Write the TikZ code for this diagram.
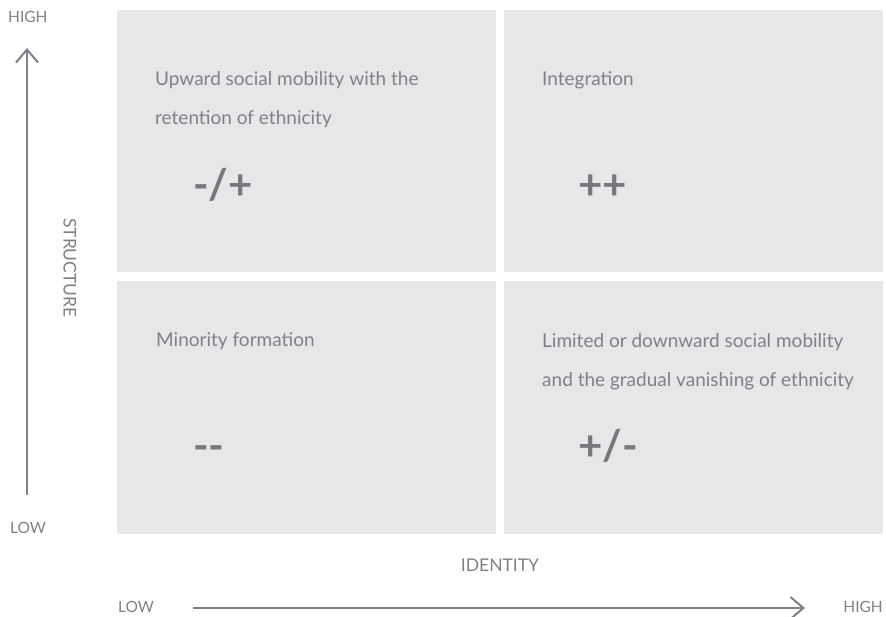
\documentclass[tikz,border=0pt]{standalone}
\usepackage{fontspec}
\setmainfont{Lato}
\usetikzlibrary{positioning, arrows.meta}
\definecolor{boxgray}{HTML}{E6E7E9}
\definecolor{txtgray}{HTML}{808186}
\definecolor{symgray}{HTML}{77787C}

\begin{document}
\begin{tikzpicture}[x=1pt, y=-1pt, node distance=7pt,
  quad/.style={fill=boxgray, inner sep=0pt, minimum width=379pt},
  lbl/.style={text=txtgray, inner sep=0pt, anchor=base west, align=left,
    font=\fontsize{19}{39}\selectfont},
  sym/.style={text=symgray, inner sep=0pt, anchor=base west,
    font=\fontsize{42}{42}\selectfont\bfseries},
  axis/.style={text=txtgray, inner sep=0pt, font=\fontsize{15.5}{15.5}\selectfont},
  axislbl/.style={text=txtgray, inner sep=0pt, font=\fontsize{17.5}{17.5}\selectfont},
  axisarrow/.style={draw=txtgray, line width=2pt,
    -{Straight Barb[length=13pt, width=22pt, line width=2pt]}}]
  \useasboundingbox (0,0) rectangle (886,617);

  % quadrants
  \node[quad, minimum height=262pt, anchor=north west] (ul) at (117,10) {};
  \node[quad, minimum height=262pt, right=of ul] (ur) {};
  \node[quad, minimum height=253pt, below=8pt of ul] (ll) {};
  \node[quad, minimum height=253pt, below=8pt of ur] (lr) {};

  % texts in the quadrants (base = last line)
  \node[lbl] (ultext) at (155,125) {Upward social mobility with the\\retention of ethnicity};
  \node[lbl] (urtext) at (542,86) {Integration};
  \node[lbl] (lltext) at (156,347) {Minority formation};
  \node[lbl] (lrtext) at (542,386) {Limited or downward social mobility\\and the gradual vanishing of ethnicity};

  \node[sym] (ulsym) at (193,200) {-/+};
  \node[sym] (ursym) at (578,200) {++};
  \node[sym] (llsym) at (193,460) {-{}-};
  \node[sym] (lrsym) at (578,460) {+/-};

  % axes
  \node[axis, anchor=west] (yhigh) at (8,17) {HIGH};
  \node[axis, anchor=west] (ylow) at (10,528) {LOW};
  \node[axislbl, rotate=-90] (ylbl) at (70,268) {STRUCTURE};
  \coordinate (ytop) at (27,48);
  \coordinate (ybot) at (27,495);
  \draw[axisarrow] (ybot) -- (ytop);

  \node[axis, anchor=west] (xlow) at (118,607) {LOW};
  \node[axis, anchor=east] (xhigh) at (883,607) {HIGH};
  \node[axislbl] (xlbl) at (500,565) {IDENTITY};
  \coordinate (xleft) at (193,608);
  \coordinate (xright) at (805,608);
  \draw[axisarrow] (xleft) -- (xright);
\end{tikzpicture}
\end{document}
